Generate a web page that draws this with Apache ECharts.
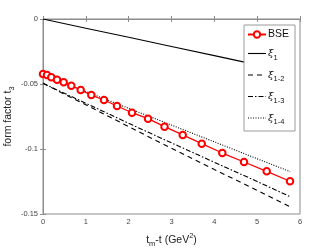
<!DOCTYPE html>
<html><head><meta charset="utf-8">
<script src="https://cdn.jsdelivr.net/npm/echarts@6/dist/echarts.min.js"></script>
<style>html,body{margin:0;padding:0;background:#fff}#c{width:332px;height:249px}</style>
</head><body><div id="c"></div>
<script>
var bseX = [0, 0.093, 0.194, 0.327, 0.483, 0.661, 0.880, 1.128, 1.424, 1.728, 2.078, 2.452, 2.837, 3.262, 3.706, 4.186, 4.693, 5.223, 5.767];
var bseY = [-0.0423, -0.0431, -0.0448, -0.0467, -0.0487, -0.0513, -0.0546, -0.0585, -0.0623, -0.0669, -0.0721, -0.0767, -0.0828, -0.0892, -0.0959, -0.1031, -0.1100, -0.1172, -0.1248];
var lineX = [0, 1, 2, 3, 4, 5, 5.77];
var xi1 = [0, -0.0071, -0.0141, -0.0212, -0.0282, -0.0353, -0.0407];
var xi12 = [-0.0495, -0.0660, -0.0828, -0.0995, -0.1158, -0.1318, -0.1444];
var xi13 = [-0.0495, -0.0648, -0.0802, -0.0953, -0.1102, -0.1250, -0.1367];
var xi14 = [-0.0430, -0.0558, -0.0687, -0.0816, -0.0945, -0.1075, -0.1174];
var xTicks = [0, 1, 2, 3, 4, 5, 6];
var yTicks = [0, -0.05, -0.1, -0.15];
var names = ['BSE', 'ξ1', 'ξ1-2', 'ξ1-3', 'ξ1-4'];

function pairs(xs, ys) { return xs.map(function (x, i) { return [x, ys[i]]; }); }
var axisCol = '#8c8c8c';
var dashes = {'ξ1': 'solid', 'ξ1-2': [5, 4], 'ξ1-3': [5, 2, 1.5, 2], 'ξ1-4': [1, 1.5]};
var chart = echarts.init(document.getElementById('c'));
var lblFont = {fontFamily: 'Liberation Sans, Arial, sans-serif', color: '#444', fontSize: 7.5};
function legendFmt(n) {
  if (n === 'BSE') return '{a|BSE}';
  return '{x|ξ}{s|' + n.slice(1) + '}';
}
var legendData = names.map(function (n) {
  if (n === 'BSE') return {name: n, itemStyle: {borderWidth: 1.3}};
  return {name: n, itemStyle: {color: 'rgba(0,0,0,0)', borderWidth: 0, opacity: 0},
    lineStyle: {color: '#000', width: 1.1, type: dashes[n]}};
});
chart.setOption({
  animation: false,
  grid: {left: 43, right: 32, top: 19, bottom: 35, show: true, borderColor: axisCol, borderWidth: 1,
    containLabel: false, outerBoundsMode: 'none'},
  legend: {
    data: legendData, orient: 'vertical', left: 244, top: 25, width: 50,
    backgroundColor: '#fff', borderColor: '#9a9a9a', borderWidth: 1,
    padding: [4, 6, 5, 3], itemGap: 7.5, itemWidth: 18, itemHeight: 8,
    formatter: legendFmt,
    textStyle: {
      fontFamily: 'Liberation Sans, Arial, sans-serif', color: '#111', padding: [0, 0, 0, -3],
      rich: {
        a: {fontSize: 10.5, fontFamily: 'Liberation Sans, Arial, sans-serif', lineHeight: 16, verticalAlign: 'middle'},
        x: {fontSize: 10, fontFamily: 'DejaVu Serif, serif', fontStyle: 'italic', lineHeight: 16, verticalAlign: 'middle'},
        s: {fontSize: 7.5, fontFamily: 'Liberation Sans, Arial, sans-serif', lineHeight: 16, verticalAlign: 'bottom', padding: [6, 0, 0, 0]}
      }
    }
  },
  xAxis: [{
    type: 'value', min: 0, max: 6, interval: 1,
    name: '{a|t}{s|m}{a|-t (GeV}{p|2}{a|)}', nameLocation: 'middle', nameGap: 18, nameMoveOverlap: false,
    nameTextStyle: {
      rich: {
        a: {fontSize: 10.5, fontFamily: 'Liberation Sans, Arial, sans-serif', color: '#222', lineHeight: 16, verticalAlign: 'middle'},
        s: {fontSize: 7.5, fontFamily: 'Liberation Sans, Arial, sans-serif', color: '#222', lineHeight: 16, verticalAlign: 'bottom', padding: [7, 0, 0, 0]},
        p: {fontSize: 7.5, fontFamily: 'Liberation Sans, Arial, sans-serif', color: '#222', lineHeight: 16, verticalAlign: 'top', padding: [0, 0, 6, 0]}
      }
    },
    axisLine: {lineStyle: {color: axisCol}}, axisTick: {inside: true, length: 3, lineStyle: {color: axisCol}},
    axisLabel: Object.assign({margin: 4, formatter: function (v) { return xTicks.indexOf(v) >= 0 ? String(v) : ''; }}, lblFont),
    splitLine: {show: false}
  }, {
    type: 'value', min: 0, max: 6, interval: 1, position: 'top',
    axisLine: {lineStyle: {color: axisCol}}, axisTick: {inside: true, length: 3, lineStyle: {color: axisCol}},
    axisLabel: {show: false}, splitLine: {show: false}
  }],
  yAxis: [{
    type: 'value', min: -0.15, max: 0, interval: 0.05,
    name: '{a|form factor t}{s|3}', nameLocation: 'middle', nameGap: 27, nameRotate: 90, nameMoveOverlap: false,
    nameTextStyle: {
      rich: {
        a: {fontSize: 10.5, fontFamily: 'Liberation Sans, Arial, sans-serif', color: '#222', lineHeight: 16, verticalAlign: 'middle'},
        s: {fontSize: 7.5, fontFamily: 'Liberation Sans, Arial, sans-serif', color: '#222', lineHeight: 16, verticalAlign: 'bottom', padding: [7, 0, 0, 0]}
      }
    },
    axisLine: {show: true, lineStyle: {color: axisCol}}, axisTick: {show: true, inside: true, length: 3, lineStyle: {color: axisCol}},
    axisLabel: Object.assign({margin: 5, formatter: function (v) {
      var r = Math.round(v * 100) / 100;
      return r === 0 ? '0' : String(r);
    }}, lblFont),
    splitLine: {show: false}
  }, {
    type: 'value', min: -0.15, max: 0, interval: 0.05, position: 'right',
    axisLine: {show: true, lineStyle: {color: axisCol}}, axisTick: {show: true, inside: true, length: 3, lineStyle: {color: axisCol}},
    axisLabel: {show: false}, splitLine: {show: false}
  }],
  series: [
    {name: 'BSE', type: 'line', data: pairs(bseX, bseY), symbol: 'emptyCircle', symbolSize: 6.5, z: 5,
      lineStyle: {color: '#ff0000', width: 1.3}, itemStyle: {color: '#ff0000', borderWidth: 1.3}},
    {name: 'ξ1', type: 'line', data: pairs(lineX, xi1), symbol: 'none', lineStyle: {color: '#000', width: 1.1}, itemStyle: {color: '#000'}},
    {name: 'ξ1-2', type: 'line', data: pairs(lineX, xi12), symbol: 'none', lineStyle: {color: '#000', width: 1.1, type: dashes['ξ1-2']}, itemStyle: {color: '#000'}},
    {name: 'ξ1-3', type: 'line', data: pairs(lineX, xi13), symbol: 'none', lineStyle: {color: '#000', width: 1.1, type: dashes['ξ1-3']}, itemStyle: {color: '#000'}},
    {name: 'ξ1-4', type: 'line', data: pairs(lineX, xi14), symbol: 'none', lineStyle: {color: '#000', width: 1.1, type: dashes['ξ1-4']}, itemStyle: {color: '#000'}}
  ]
});
</script></body></html>
